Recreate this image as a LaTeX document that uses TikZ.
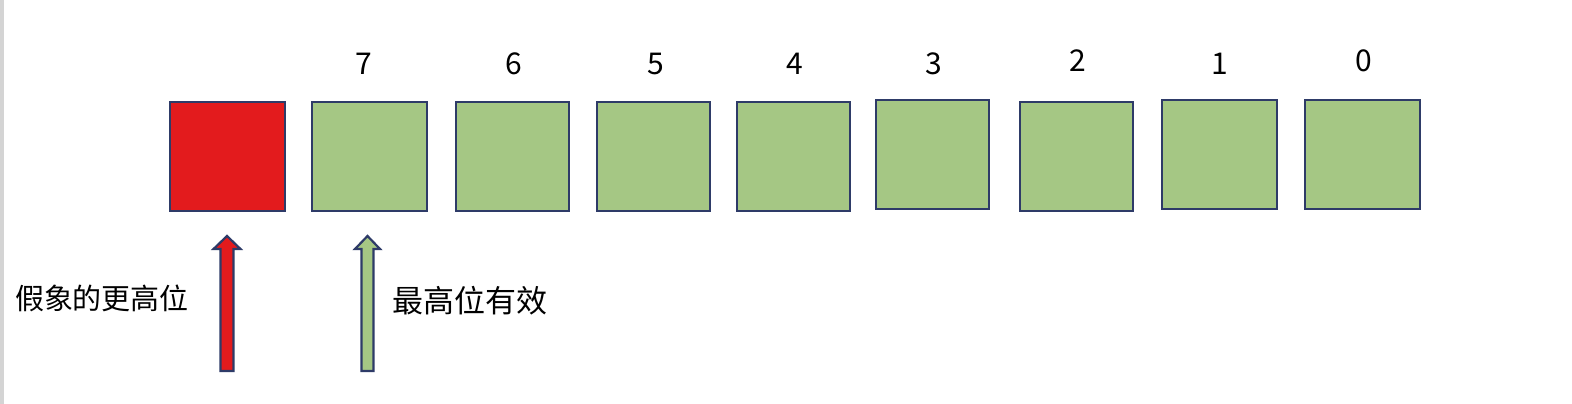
\documentclass[tikz,border=0pt]{standalone}
\usepackage{fontspec}
\setmainfont{Noto Sans CJK SC}
\definecolor{edge}{HTML}{2E3B68}
\definecolor{boxgreen}{HTML}{A5C784}
\definecolor{boxred}{HTML}{E31B1D}
\definecolor{sidegrey}{HTML}{D4D4D4}
\tikzset{
  bitbox/.style={draw=edge, line width=2.6pt, fill=boxgreen, rectangle, inner sep=0pt},
  numlabel/.style={font=\fontsize{30}{32}\selectfont, inner sep=0pt},
  cjklabel/.style={font=\fontsize{29}{32}\selectfont, inner sep=0pt},
  blockarrow/.style={draw=edge, line width=2.2pt, line join=miter},
}
\begin{document}
\begin{tikzpicture}[x=1pt,y=-1pt]
\useasboundingbox (0,0) rectangle (1572,404);
\fill[white] (0,0) rectangle (1572,404);
\fill[sidegrey] (0,0) rectangle (3.5,404);
% boxes
\node[bitbox, fill=boxred, minimum width=115pt, minimum height=109pt] (bx) at (227.5,156.5) {};
\node[bitbox, minimum width=115pt, minimum height=109pt] (b7) at (369.5,156.5) {};
\node[bitbox, minimum width=113pt, minimum height=109pt] (b6) at (512.5,156.5) {};
\node[bitbox, minimum width=113pt, minimum height=109pt] (b5) at (653.5,156.5) {};
\node[bitbox, minimum width=113pt, minimum height=109pt] (b4) at (793.5,156.5) {};
\node[bitbox, minimum width=113pt, minimum height=109pt] (b3) at (932.5,154.5) {};
\node[bitbox, minimum width=113pt, minimum height=109pt] (b2) at (1076.5,156.5) {};
\node[bitbox, minimum width=115pt, minimum height=109pt] (b1) at (1219.5,154.5) {};
\node[bitbox, minimum width=115pt, minimum height=109pt] (b0) at (1362.5,154.5) {};
% numbers
\node[numlabel] (n7) at (364,64) {7};
\node[numlabel] (n6) at (514,64) {6};
\node[numlabel] (n5) at (656,64) {5};
\node[numlabel] (n4) at (795,64) {4};
\node[numlabel] (n3) at (934,64) {3};
\node[numlabel] (n2) at (1078,61) {2};
\node[numlabel] (n1) at (1220,64) {1};
\node[numlabel] (n0) at (1364,61) {0};
% arrows
\draw[blockarrow, fill=boxred] (220.5,371) -- (220.5,249) -- (213.5,249) -- (227,236) -- (240.5,249) -- (233.5,249) -- (233.5,371) -- cycle;
\draw[blockarrow, fill=boxgreen] (361.5,371) -- (361.5,249) -- (355,249) -- (367.5,236) -- (380,249) -- (373.5,249) -- (373.5,371) -- cycle;
% labels
\node[cjklabel] (lx) at (102,298) {假象的更高位};
\node[cjklabel, font=\fontsize{31}{34}\selectfont] (lv) at (470,301) {最高位有效};
\end{tikzpicture}
\end{document}
